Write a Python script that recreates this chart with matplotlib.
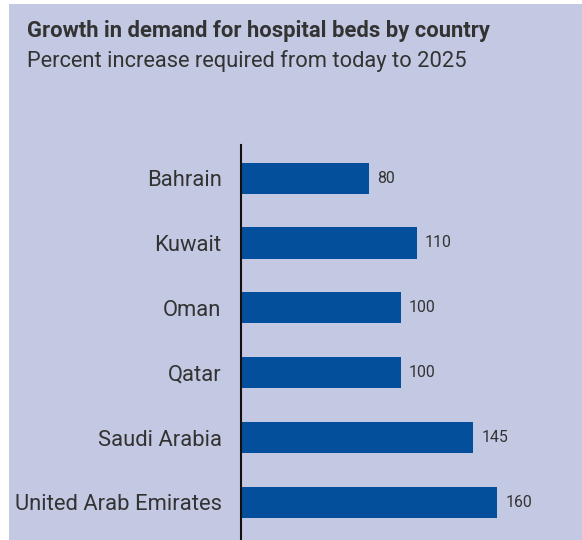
import matplotlib
matplotlib.use("Agg")
import matplotlib.pyplot as plt
from matplotlib.patches import Rectangle

countries = ["Bahrain", "Kuwait", "Oman", "Qatar", "Saudi Arabia", "United Arab Emirates"]
growth = [80, 110, 100, 100, 145, 160]

bg = "#c3c9e2"
bar_color = "#034f9c"
text_color = "#333333"

plt.rcParams['font.family'] = ['Roboto', 'DejaVu Sans']

fig = plt.figure(figsize=(5.82, 5.40), dpi=100)
W, H = 582, 540

# light panel with thin white margin on left/top
fig.patches.append(Rectangle((9 / W, 0), 1 - 9 / W, 1 - 4 / H,
                             transform=fig.transFigure, facecolor=bg,
                             edgecolor="none", zorder=-5))

t1 = fig.text(27 / W, 1 - 37 / H, "Growth in demand for hospital beds by country",
              fontsize=16, fontweight="bold", color=text_color, va="baseline")
t2 = fig.text(27 / W, 1 - 67 / H, "Percent increase required from today to 2025",
              fontsize=16, color=text_color, va="baseline")

ax = fig.add_axes([241 / W, 0, (W - 241) / W, (540 - 145) / H])
ax.set_zorder(2)
ax.set_facecolor("none")
pos = list(range(len(countries)))
ax.barh(pos, growth, height=0.48, color=bar_color)
vals = []
for p, v in zip(pos, growth):
    vals.append(ax.text(v + 5, p, str(v), va="center", ha="left", fontsize=14, color=text_color))

ax.set_ylim(5.58, -0.51)
ax.set_xlim(0, 213)
ax.set_yticks(pos)
ax.set_yticklabels(countries, fontsize=17, color=text_color)
ax.tick_params(axis="y", length=0, pad=14)
ax.set_xticks([])
for s in ["top", "right", "bottom"]:
    ax.spines[s].set_visible(False)
ax.spines["left"].set_color("#111111")
ax.spines["left"].set_linewidth(1.5)

# fit font sizes to the widths seen in the reference
fig.canvas.draw()
r = fig.canvas.get_renderer()
def fit(t, target):
    w = t.get_window_extent(r).width
    t.set_fontsize(t.get_fontsize() * target / w)
fit(t1, 463)
fit(t2, 441)
labs = ax.get_yticklabels()
wl = labs[-1].get_window_extent(r).width
size = 17 * 207 / wl
for lab in labs:
    lab.set_fontsize(size)
wv = vals[-1].get_window_extent(r).width
vs = 14 * 27 / wv
for t in vals:
    t.set_fontsize(vs)

fig.savefig("out.png", dpi=100)
